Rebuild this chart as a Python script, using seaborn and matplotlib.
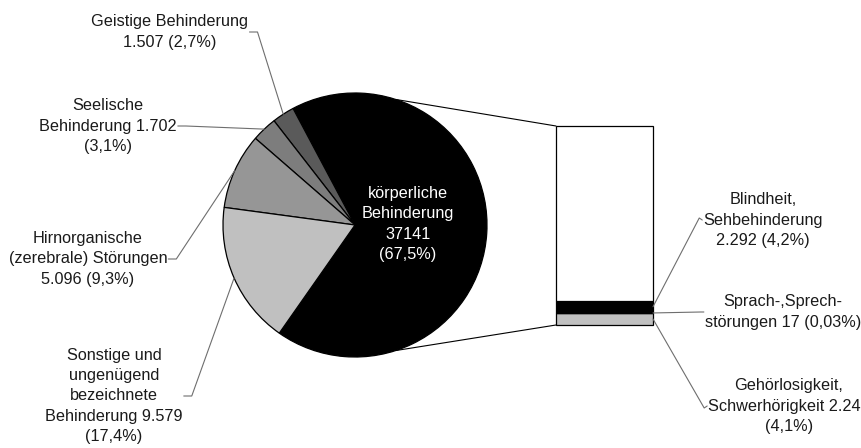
import numpy as np
import matplotlib
matplotlib.use("Agg")
import matplotlib.pyplot as plt
import seaborn as sns

# pie data (counterclockwise from the start angle)
pie_labels = [
    "körperliche\nBehinderung\n37141\n(67,5%)",
    "Geistige Behinderung\n1.507 (2,7%)",
    "Seelische\nBehinderung 1.702\n(3,1%)",
    "Hirnorganische\n(zerebrale) Störungen\n5.096 (9,3%)",
    "Sonstige und\nungenügend\nbezeichnete\nBehinderung 9.579\n(17,4%)",
]
pie_values = [37141, 1507, 1702, 5096, 9579]
pie_colors = ["#000000", "#5a5a5a", "#7d7d7d", "#969696", "#c0c0c0"]

# bar data (stacked from bottom to top), split of the black slice
bar_labels = [
    "Gehörlosigkeit,\nSchwerhörigkeit 2.240\n(4,1%)",
    "Sprach-,Sprech-\nstörungen 17 (0,03%)",
    "Blindheit,\nSehbehinderung\n2.292 (4,2%)",
    "",
]
bar_values = [2240, 17, 2292, 32592]
bar_colors = ["#c0c0c0", "#c0c0c0", "#000000", "#ffffff"]

# layout in pixels
W, H = 862, 448
CX, CY, R = 355, 225, 132
BAR_L, BAR_R, BAR_T, BAR_B = 556, 653, 126, 325
START = 235

pie_label_pos = [(408, 224), (170, 32), (108, 126), (88, 259), (114, 396)]
bar_label_pos = [(789, 406), (783, 312), (763, 220), None]

sns.set_theme(style="white")
plt.rcParams["font.family"] = ["Liberation Sans", "DejaVu Sans"]
FS = 11.7
LS = 1.45

fig = plt.figure(figsize=(W / 100, H / 100), dpi=100)
fig.patch.set_facecolor("white")

# pie
ax_pie = fig.add_axes([(CX - R) / W, (H - CY - R) / H, 2 * R / W, 2 * R / H])
wedges, _ = ax_pie.pie(pie_values, colors=pie_colors, startangle=START,
                       counterclock=True, radius=1,
                       wedgeprops=dict(edgecolor="black", linewidth=0.9))
ax_pie.set_xlim(-1, 1)
ax_pie.set_ylim(-1, 1)
ax_pie.set_aspect("auto")
ax_pie.axis("off")

# stacked bar
ax_bar = fig.add_axes([BAR_L / W, (H - BAR_B) / H, (BAR_R - BAR_L) / W, (BAR_B - BAR_T) / H])
bottoms = np.concatenate([[0], np.cumsum(bar_values)[:-1]])
bars = ax_bar.bar([0] * len(bar_values), bar_values, bottom=bottoms, width=1,
                  color=bar_colors, edgecolor="black", linewidth=0.9)
for b in bars:
    b.set_clip_on(False)
ax_bar.set_xlim(-0.5, 0.5)
ax_bar.set_ylim(0, sum(bar_values))
ax_bar.axis("off")

# overlay in pixel coordinates for texts and lines
ax_ov = fig.add_axes([0, 0, 1, 1], zorder=5)
ax_ov.set_xlim(0, W)
ax_ov.set_ylim(H, 0)
ax_ov.axis("off")
ax_ov.patch.set_visible(False)


def rim(angle):
    a = np.deg2rad(angle)
    return CX + R * np.cos(a), CY - R * np.sin(a)


# connector lines from the black slice to the bar
for ang, by in [(72, BAR_T), (-72, BAR_B)]:
    px, py = rim(ang)
    ax_ov.plot([px, BAR_L], [py, by], color="black", lw=0.8)

renderer = fig.canvas.get_renderer()
inv = ax_ov.transData.inverted()

# pie labels
for i, (lab, w) in enumerate(zip(pie_labels, wedges)):
    x, y = pie_label_pos[i]
    if i == 0:
        ax_ov.text(x, y, lab, color="white", fontsize=FS, ha="center", va="center",
                   linespacing=LS)
        continue
    t = ax_ov.text(x, y, lab, color="#1a1a1a", fontsize=FS, ha="center", va="center",
                   linespacing=LS)
    bb = t.get_window_extent(renderer).transformed(inv)
    ex = max(bb.x0, bb.x1) + 1
    mid = (w.theta1 + w.theta2) / 2
    px, py = rim(mid)
    ax_ov.plot([ex, ex + 8, px], [y, y, py], color="#6e6e6e", lw=0.8)

# bar labels
scale = (BAR_B - BAR_T) / sum(bar_values)
for i, lab in enumerate(bar_labels):
    if not lab:
        continue
    x, y = bar_label_pos[i]
    t = ax_ov.text(x, y, lab, color="#1a1a1a", fontsize=FS, ha="center", va="center",
                   linespacing=LS)
    bb = t.get_window_extent(renderer).transformed(inv)
    ex = min(bb.x0, bb.x1) - 1
    seg_mid = BAR_B - (bottoms[i] + bar_values[i] / 2) * scale
    ax_ov.plot([ex, ex - 3, BAR_R], [y, y + (2 if i == 0 else -2 if i == 2 else 0), seg_mid],
               color="#6e6e6e", lw=0.8)

fig.savefig("out.png", dpi=100)
